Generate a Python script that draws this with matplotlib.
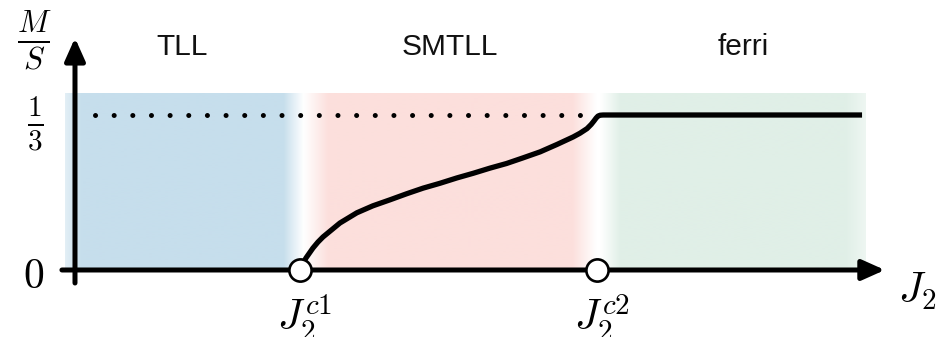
import numpy as np
import matplotlib
matplotlib.use("Agg")
import matplotlib.pyplot as plt

plt.rcParams['mathtext.fontset'] = 'cm'

# critical couplings (arbitrary units, y axis sits at J2 = 0)
Jc1 = 0.758
Jc2 = 1.758
M_sat = 1.0 / 3.0

# magnetization curve
curve_J = [0.758, 0.768, 0.778, 0.801, 0.818, 0.835, 0.892, 0.949, 1.003,
           1.061, 1.117, 1.172, 1.229, 1.286, 1.341, 1.397, 1.453, 1.508,
           1.566, 1.623, 1.677, 1.700, 1.724, 1.738, 1.748, 1.755, 1.761,
           1.768, 1.778, 2.650]
curve_M = [0.000, 0.015, 0.026, 0.047, 0.060, 0.071, 0.101, 0.123, 0.138,
           0.151, 0.164, 0.176, 0.1865, 0.198, 0.208, 0.219, 0.229, 0.241,
           0.254, 0.270, 0.286, 0.294, 0.304, 0.313, 0.321, 0.327, 0.331,
           0.3328, 0.3333, 0.3333]

phases = ['TLL', 'SMTLL', 'ferri']
phase_x = [0.36, 1.263, 2.249]
phase_colors = ['#c6deec', '#fcdfdc', '#e0efe7']


def ramp(x, a, b):
    return np.clip((x - a) / (b - a), 0, 1)


fig = plt.figure(figsize=(9.4, 3.37), dpi=100)
ax = fig.add_axes([0, 0, 1, 1])
ax.set_xlim(-0.2525, 2.9125)
ax.set_ylim(-0.1441, 0.5806)
ax.axis('off')

# shaded phase regions with soft edges
bg_left, bg_right, bg_top = -0.034, 2.660, 0.3785
jj = np.linspace(bg_left, bg_right, 800)
a_blue = (0.5 + 0.5 * ramp(jj, bg_left, 0.02)) * (1 - ramp(jj, 0.700, 0.768))
a_red = ramp(jj, 0.768, 0.852) * (1 - ramp(jj, 1.673, 1.754))
a_green = ramp(jj, 1.768, 1.835) * (1 - 0.45 * ramp(jj, 2.593, bg_right))
img = np.ones((1, len(jj), 3))
for a, c in zip([a_blue, a_red, a_green], phase_colors):
    rgb = np.array(matplotlib.colors.to_rgb(c))
    img[0] = img[0] * (1 - a[:, None]) + rgb * a[:, None]
ax.imshow(img, extent=[bg_left, bg_right, 0, bg_top], aspect='auto',
          interpolation='bilinear', zorder=0)

# axes arrows
arrow = dict(arrowstyle='-|>,head_length=0.38,head_width=0.17', lw=3.6,
             color='black', mutation_scale=36, shrinkA=0, shrinkB=0)
ax.annotate('', xy=(2.727, 0), xytext=(-0.044, 0), arrowprops=arrow, zorder=3)
ax.annotate('', xy=(0, 0.499), xytext=(0, -0.028), arrowprops=arrow, zorder=3)

# saturation plateau (dotted) and magnetization curve
ax.plot([0.0673, 1.702], [M_sat, M_sat], color='black', lw=3.6,
        linestyle=(0, (0.01, 3.72)), dash_capstyle='round', zorder=2)
ax.plot(curve_J, curve_M, color='black', lw=3.8, solid_joinstyle='round',
        solid_capstyle='butt', zorder=4)

# critical points
ax.plot([Jc1, Jc2], [0, 0], 'o', ms=16, mfc='white', mec='black', mew=1.9,
        zorder=5)

# phase labels
for name, x in zip(phases, phase_x):
    ax.text(x, 0.48, name, ha='center', va='center', fontsize=21.5,
            family=['Liberation Sans', 'DejaVu Sans'], color='#111111')

# axis labels
ax.text(-0.138, -0.013, r'$0$', ha='center', va='center', fontsize=30)
ax.text(-0.135, 0.312, r'$\frac{1}{3}$', ha='center', va='center', fontsize=30)
ax.text(-0.138, 0.494, r'$\frac{M}{S}$', ha='center', va='center', fontsize=32)
ax.text(2.771, -0.071, r'$J_2$', ha='left', va='baseline', fontsize=30)
ax.text(Jc1 + 0.015, -0.129, r'$J_2^{c1}$', ha='center', va='baseline', fontsize=30)
ax.text(Jc2 + 0.015, -0.129, r'$J_2^{c2}$', ha='center', va='baseline', fontsize=30)

fig.savefig('out.png', dpi=100)
